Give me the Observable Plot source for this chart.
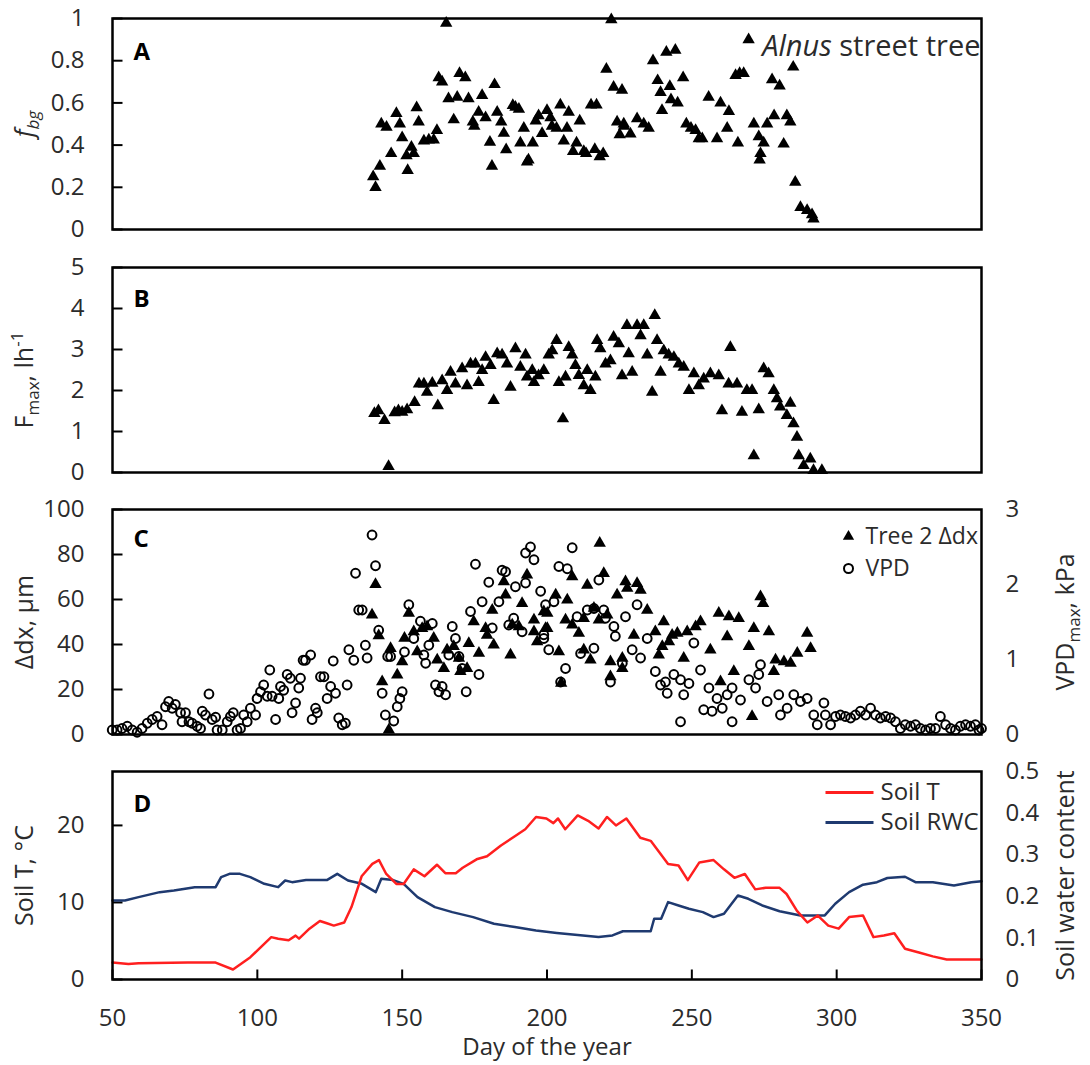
<!DOCTYPE html>
<html><head><meta charset="utf-8">
<script src="https://cdn.jsdelivr.net/npm/d3@7"></script>
<script src="https://cdn.jsdelivr.net/npm/@observablehq/plot@0.6"></script>
<style>
body{margin:0;background:#fff;}
#chart{width:1090px;}
#chart svg{display:block;}
</style></head><body><div id="chart"></div>
<script>
// ---------- Panel A: f_bg ----------
const aDay = [140,140.8,142.3,142.8,144.6,146.2,148,149.2,150,151.5,151.9,153.2,154,155,155.7,157.5,159.2,160.9,162,162.6,
  163.8,165.2,166,167.8,169,169.8,171.8,172.9,174.4,174.9,176.4,177.6,178.8,180.3,181,181.9,182.8,184.2,185.1,185.9,
  188.2,189.1,190.3,190.8,192,193.1,193.6,195.1,196.1,197.1,198.3,200,201.2,201.7,203.3,204.6,205.8,206.9,207.5,209,
  210.2,211.3,212.7,213.5,215.2,216.5,217.1,218.2,219.4,220.5,222.2,223,224.2,225.1,225.9,226.5,226.6,228.8,231.1,233.4,
  235.1,236.6,238.2,239.2,239.7,241.2,242.4,242.8,244.3,245.1,247,248.1,249.7,251.3,252.4,253.6,255.8,258.7,259.9,262.2,
  262.8,265.1,265.9,266.5,267.9,269.6,271.4,273.1,273.4,273.7,274.8,276,277.7,278.4,280.3,281.7,282.8,284,285,285.7,
  287.5,289.8,291.5,292];
const aFbg = [0.25,0.20,0.30,0.50,0.485,0.36,0.55,0.50,0.435,0.35,0.28,0.39,0.36,0.577,0.51,0.42,0.425,0.425,0.47,0.72,
  0.70,0.978,0.62,0.52,0.627,0.74,0.72,0.62,0.51,0.49,0.556,0.635,0.53,0.414,0.30,0.687,0.556,0.51,0.456,0.378,
  0.588,0.58,0.57,0.41,0.48,0.32,0.33,0.41,0.515,0.54,0.455,0.564,0.53,0.49,0.48,0.59,0.42,0.48,0.556,0.37,
  0.41,0.515,0.37,0.36,0.59,0.38,0.59,0.345,0.36,0.76,0.995,0.675,0.51,0.45,0.66,0.50,0.49,0.453,0.525,0.50,
  0.48,0.80,0.706,0.65,0.564,0.84,0.678,0.615,0.85,0.60,0.72,0.50,0.48,0.47,0.43,0.43,0.627,0.43,0.60,0.48,
  0.56,0.73,0.41,0.74,0.74,0.90,0.50,0.44,0.33,0.36,0.41,0.50,0.71,0.54,0.68,0.405,0.54,0.51,0.77,0.224,
  0.105,0.09,0.07,0.05];

// ---------- Panel B: Fmax ----------
const bDay = [140.4,141.8,143.9,145.3,147.4,148.7,150,151.7,154.3,155.8,157.5,158.6,160.4,162.3,163.8,165.5,166.7,168.4,170.7,172.4,
  173.6,175.3,176.4,177.6,178.8,180.5,181.6,182.8,184.5,186.2,187.4,189.1,190.8,192.6,193.1,194.9,195.5,197.1,198.9,200.6,
  201.8,203.3,204.1,205.5,206.4,207.5,208.7,209.8,211,212.7,213.9,215,216.7,217.3,218.4,220.2,221.9,223,224.8,225.9,
  227.6,228.2,229.4,231.1,232.3,233.4,234.6,236.3,237.2,238,239.2,240.3,242,243.8,245.5,247.2,249,250.7,252.4,254.1,
  256.4,259.3,260.4,262.7,263.3,265.6,267.3,269,270.8,271.4,273.1,274.8,276.5,278.3,279.4,280.5,282.8,284,285.1,286.3,
  286.9,288.6,290.9,292,294.9];
const bFmax = [1.44,1.51,1.27,0.15,1.46,1.51,1.47,1.53,1.71,2.16,2.16,1.96,2.18,1.63,2.24,2.0,2.45,2.16,2.53,2.12,
  2.65,2.65,2.2,2.49,2.81,2.61,1.76,2.9,2.87,2.65,2.08,3.02,2.57,2.87,2.33,2.49,2.2,2.36,2.49,2.87,
  2.97,3.22,2.2,1.31,2.33,3.05,2.87,2.61,2.37,2.12,2.49,2.0,2.33,3.22,3.02,2.65,2.73,3.3,3.14,2.36,
  3.59,2.9,2.45,3.59,3.34,3.59,2.87,1.96,3.83,3.22,2.45,2.97,2.87,2.81,2.65,2.57,2.0,2.41,2.12,2.28,
  2.41,2.36,1.51,2.16,3.05,2.16,1.47,2.0,2.0,0.41,1.53,2.53,2.41,2.0,1.8,1.6,1.39,1.69,1.19,0.86,
  0.41,0.17,0.33,0.05,0.05];

// ---------- Panel C: Tree 2 Δdx (µm) and VPDmax (kPa) ----------
const cDxDay = [139.6,140.8,141.9,143.1,145.4,146,148.3,150,150.8,152.3,154,155.2,156.9,158.6,160.9,162.1,164.4,165.5,167.8,169.6,
  170.1,172.4,173,174.7,176.5,178.8,179.3,181.1,181.6,185.1,185.7,187.4,188,190.3,191.4,193.1,195.5,195.5,196.6,198.9,
  199.5,200.1,200.1,203,204.1,204.9,206.4,207,208.7,208.7,211,212.7,212.7,213.9,215,216.2,217.9,218.2,219.6,220.8,
  221.9,221.9,224.2,226,226,227.1,227.7,230,231.1,232.3,234.6,237.4,238.6,239.8,240.3,242.1,243.2,245,247.2,248.4,
  251.3,253,256.4,259.3,259.9,262.2,262.8,264.5,266.2,269.7,270.8,271.4,273.7,274.6,276.6,278.3,278.9,281.8,284.1,286.4,
  289.8,291];
const cDx = [53.1,66.7,43.9,23.5,2.0,38.3,26.5,32.4,42.8,53.9,45.7,36.8,47.2,47.9,42.8,33.1,29.4,37.6,39.1,33.9,
  28,29.4,40.5,50.2,36.1,47.2,44.2,55.3,39.8,67.9,62,35.4,48.7,47.9,58.3,70.9,50.9,45.7,41.3,54.6,
  47.2,53.9,47.2,62,36.8,22.8,50.9,59.8,70.1,48.7,45,51.6,37.6,66.4,33.1,56.1,50.9,85,71.6,53.1,
  32.4,25.7,62,33.9,29.4,67.9,65,44.2,67.2,64.2,55.3,45.7,35.4,39.1,50.2,41.3,44.2,45,33.9,45.7,
  47.9,50.2,37.6,53.9,23.5,43.5,52.4,28,51.6,39.1,8,47.2,61.3,58.3,45.7,28,33.1,32.4,31.7,36.1,
  45,38.3];
const cVpdDay = [49.9,51.6,53.3,55.1,56.8,58.5,60.2,62,63.7,65.4,67.1,68.3,69.4,70.6,71.7,73.5,74,75.2,76.4,77.5,
  79.2,80.4,81,82.1,83.3,84.4,85.6,86.1,87.9,89.6,90.7,91.7,93,94.2,95.3,96.5,97.6,99.4,99.9,101.1,
  102.2,103.4,104.3,105.1,106.3,107.4,108,109.1,110.3,111.4,112,113.2,114.3,114.9,115.8,116.6,118.4,118.9,120.1,120.7,
  121.8,123,124.1,125.3,126.2,127,128.1,129.3,130.4,131,131.6,133.3,133.9,135,136.2,137.3,137.9,139.6,140.8,141.9,
  143.1,144.2,145,146,147.1,148.3,149.2,150,150.8,152.3,154,156.3,157.5,158.1,159.2,160.4,161.5,162.7,163.8,165,
  166.1,167.3,168.4,169.6,170.7,172.1,173.6,175.3,176.5,177.6,179.9,181.1,183.4,184.5,185.7,186.8,188.5,189.1,191.4,192.6,
  192.6,194.3,195.5,197.8,198.9,198.9,199.5,200.6,202.4,204.1,204.7,206.4,207,208.7,210.4,211.6,213.9,216.2,216.2,217.9,
  219.6,220.2,221.9,223.1,223.6,226,227.1,229.4,231.1,232.3,234.6,237.4,239.2,240.9,241.5,243.8,246.1,246.1,247.2,249,
  250.7,253,254.1,255.9,257,258.7,260.5,262.2,263.9,263.9,266.8,269.7,272,273.1,273.7,276,280,280.6,282.9,285.2,
  287.5,289.8,292.1,293.3,295.6,296.1,297.9,299.6,301.3,303,304.8,306.5,308.2,310,311.7,313.4,315.1,316.9,318.6,320.3,
  322,323.7,325.5,327.2,328.9,330.7,332.4,334.1,335.8,337.6,339.3,341,342.7,344.5,346.2,347.9,349.1,350];
const cVpd = [0.06,0.06,0.08,0.11,0.06,0.03,0.08,0.15,0.2,0.24,0.13,0.37,0.44,0.35,0.4,0.29,0.17,0.29,0.17,0.15,
  0.11,0.08,0.31,0.26,0.54,0.2,0.23,0.06,0.06,0.17,0.24,0.29,0.06,0.08,0.26,0.17,0.35,0.26,0.48,0.57,
  0.66,0.51,0.86,0.51,0.2,0.48,0.64,0.59,0.8,0.75,0.29,0.42,0.62,0.75,0.99,0.99,1.06,0.2,0.35,0.29,
  0.77,0.77,0.48,0.64,0.98,0.55,0.22,0.13,0.15,0.66,1.13,0.99,2.15,1.66,1.66,1.19,1.02,2.66,2.25,1.39,
  0.55,0.26,1.04,1.04,0.18,0.37,0.48,0.57,1.1,1.73,1.28,1.51,1.06,0.95,1.19,1.48,0.66,0.57,0.64,0.53,
  1.06,1.44,1.28,1.04,0.88,0.57,1.64,2.27,0.8,1.77,2.03,1.42,1.77,2.19,2.17,1.46,1.55,1.97,1.37,2.42,
  2.02,2.5,2.33,1.91,1.28,1.33,1.73,1.13,1.77,2.24,0.7,0.88,2.21,2.49,1.57,1.08,1.66,1.68,1.15,2.06,
  1.66,1.55,0.7,1.44,1.31,0.95,1.57,1.13,1.73,1.02,1.28,0.84,0.66,0.7,0.55,0.8,0.73,0.17,0.53,0.68,
  1.22,0.86,0.33,0.62,0.31,0.48,0.35,0.53,0.17,0.62,0.46,0.73,0.62,0.8,0.93,0.44,0.53,0.26,0.35,0.53,
  0.44,0.48,0.26,0.13,0.42,0.26,0.13,0.24,0.26,0.24,0.22,0.26,0.31,0.26,0.35,0.26,0.22,0.24,0.22,0.17,
  0.08,0.13,0.11,0.13,0.08,0.06,0.08,0.08,0.24,0.13,0.08,0.06,0.11,0.13,0.11,0.13,0.06,0.08];

// ---------- Panel D: soil temperature and soil water content ----------
const dTDay = [50,55.5,59,76,85.6,91.6,97.6,104.8,107.2,110.8,
  113.2,114.4,118,121.6,124,126.4,130,132.5,136,139.7,
  142,144.5,148,150.5,154,157.7,162,164.9,168.5,170.9,
  175.7,179.3,184.1,188.9,192.5,196.2,199.8,202.2,203.8,206.3,
  210.6,214.2,217.8,220.7,223.8,227.4,232.2,235.8,241.8,245.4,
  248.6,252.6,257.5,261.1,264.7,268.3,271.9,275.5,280.3,282.7,
  286.3,289.9,293.5,297.1,300.7,304.3,309.1,312.7,316.3,319.9,
  323.6,328.4,333.2,338,350];
const dSoilT = [2.2,2.0,2.1,2.2,2.2,1.3,2.9,5.5,5.3,5.1,
  5.7,5.3,6.6,7.6,7.3,7.0,7.4,9.4,13.4,15,
  15.5,13.7,12.4,12.4,14.3,13.4,14.9,13.8,13.8,14.5,
  15.6,16,17.4,18.6,19.5,21.1,20.9,20.3,20.9,19.5,
  21.3,20.6,19.6,21.1,20.0,20.9,18.4,18.0,15,14.8,
  12.9,15.2,15.5,14.3,13.2,13.7,11.7,11.9,11.9,11.1,
  8.9,7.4,8.3,7.0,6.6,8.1,8.3,5.5,5.7,6.0,
  4.0,3.5,3.0,2.6,2.6];
const dRDay = [50,54.3,59,66.3,71.2,78.4,85.6,87.5,90.4,94,
  97.6,102.4,107.2,109.6,112,116.8,124,127.6,131.3,136.1,
  140.9,142.8,146.9,150.5,155.3,161.3,167.3,174.5,181.7,188.9,
  196.2,203.4,210.6,217.8,222.6,226.2,235.8,237,239.4,241.8,
  245.4,249,253.8,257.5,261.1,265.9,269.5,274.3,280.3,287.5,
  295.9,299.5,304.3,309.1,313.9,317.5,323.6,327.2,333.2,340.5,
  346.5,350];
const dRwc = [0.19,0.19,0.198,0.21,0.214,0.222,0.222,0.246,0.254,0.254,
  0.246,0.23,0.222,0.238,0.234,0.239,0.239,0.254,0.238,0.23,
  0.21,0.242,0.239,0.23,0.198,0.174,0.162,0.15,0.134,0.126,
  0.118,0.112,0.107,0.102,0.106,0.116,0.116,0.146,0.146,0.186,
  0.178,0.17,0.162,0.15,0.158,0.202,0.194,0.178,0.164,0.154,
  0.154,0.182,0.21,0.228,0.234,0.244,0.247,0.234,0.234,0.226,
  0.234,0.236];

// ---------- tick labels ----------
const xTicks = [50,100,150,200,250,300,350];
const aTicks = [0,0.2,0.4,0.6,0.8,1];
const bTicks = [0,1,2,3,4,5];
const cTicks = [0,20,40,60,80,100];
const cVpdTicks = [0,1,2,3];
const dTTicks = [0,10,20];
const dRwcTicks = [0,0.1,0.2,0.3,0.4,0.5];

// ---------- drawing ----------
const FONT = '"Open Sans", sans-serif';
const TXT = "#2b2b2b";
const RED = "#ff1f1f", BLUE = "#1f3a70";
const VPD_K = 100/3;      // VPD axis (0-3 kPa) on the 0-100 µm scale
const RWC_K = 27/0.5;     // RWC axis (0-0.5) on the 0-27 °C scale
const zip = (xs, ys) => xs.map((x,i)=>({x, y: ys[i]}));
const fmt = d => String(+(+d).toFixed(1));
// inward tick shapes (pixel-space symbols)
const tickRight = {draw(ctx){ ctx.moveTo(0,0); ctx.lineTo(10,0); }};
const tickUp = {draw(ctx){ ctx.moveTo(0,0); ctx.lineTo(0,-10); }};

function panel({height, mt, mb, yDomain, yTicks, marks, xAxis=false}) {
  return Plot.plot({
    width: 1090, height, marginLeft: 112, marginRight: 109, marginTop: mt, marginBottom: mb,
    x: {domain: [50,350], axis: null},
    y: {domain: yDomain, axis: null},
    style: {fontFamily: FONT, fontSize: "24px", color: TXT, background: "white", overflow: "visible"},
    marks: [
      Plot.dot(yTicks, {y: d=>d, frameAnchor: "left", symbol: tickRight, stroke: "black", strokeWidth: 2, fill: "none"}),
      Plot.axisY({anchor: "left", label: null, ticks: yTicks, tickFormat: fmt, tickSize: 0, tickPadding: 28,
                  fontSize: 24, fill: TXT}),
      ...(xAxis ? [
        Plot.dot(xTicks, {x: d=>d, frameAnchor: "bottom", symbol: tickUp, stroke: "black", strokeWidth: 2, fill: "none"}),
        Plot.axisX({anchor: "bottom", label: null, ticks: xTicks, tickFormat: d=>String(d), tickSize: 0, tickPadding: 29,
                    fontSize: 24, fill: TXT})] : []),
      ...marks,
      Plot.frame({stroke: "black", strokeWidth: 2.5})
    ]
  });
}
const txt = (t, o) => Plot.text([t], {text: d=>d, lineAnchor: "middle", fill: TXT, ...o});
const panelLabel = (t, dy) => txt(t, {frameAnchor: "top-left", dx: 21, dy, textAnchor: "start",
  fontWeight: "bold", fontSize: 24, fill: "black"});
const yTitle = (t, side="left", dy=0) => txt(t, {frameAnchor: side, dx: side==="left" ? -88 : 84, dy,
  rotate: -90, textAnchor: "middle", fontSize: 25});
const tri = {symbol: "triangle", fill: "black", r: 4.6};
const legendLine = {draw(ctx){ ctx.moveTo(-24,0); ctx.lineTo(24,0); }};

const svgA = panel({height: 250, mt: 18, mb: 21, yDomain: [0,1], yTicks: aTicks, marks: [
  Plot.dot(zip(aDay, aFbg), {x: "x", y: "y", ...tri}),
  panelLabel("A", 34),
  txt("Alnus street tree", {frameAnchor: "top-right", dx: -1, dy: 28, textAnchor: "end", fontSize: 29}),
  yTitle("fbg")
]});
const svgB = panel({height: 245, mt: 17, mb: 23, yDomain: [0,5], yTicks: bTicks, marks: [
  Plot.dot(zip(bDay, bFmax), {x: "x", y: "y", ...tri}),
  panelLabel("B", 32),
  yTitle("Fmax, lh-1", "left", 10)
]});
const svgC = panel({height: 255, mt: 14, mb: 16, yDomain: [0,100], yTicks: cTicks, marks: [
  Plot.axisY({anchor: "right", label: null, ticks: cVpdTicks.map(v=>v*VPD_K), tickFormat: d=>fmt(d/VPD_K), tickSize: 0,
    tickPadding: 24, fontSize: 24, fill: TXT}),
  Plot.dot(zip(cDxDay, cDx), {x: "x", y: "y", ...tri}),
  Plot.dot(zip(cVpdDay, cVpd), {x: "x", y: d=>d.y*VPD_K, r: 4.4, stroke: "black", strokeWidth: 2, fill: "none"}),
  panelLabel("C", 30),
  Plot.dot([0], {frameAnchor: "top-right", dx: -133, dy: 27, symbol: "triangle", r: 4.2, fill: "black"}),
  txt("Tree 2 Δdx", {frameAnchor: "top-right", dx: -116, dy: 27, textAnchor: "start", fontSize: 23}),
  Plot.dot([0], {frameAnchor: "top-right", dx: -133, dy: 59, r: 4.5, stroke: "black", strokeWidth: 2, fill: "none"}),
  txt("VPD", {frameAnchor: "top-right", dx: -116, dy: 59, textAnchor: "start", fontSize: 23}),
  yTitle("Δdx, µm"),
  yTitle("VPDmax, kPa", "right")
]});
const svgD = panel({height: 315, mt: 21, mb: 86, yDomain: [0,27], yTicks: dTTicks, xAxis: true, marks: [
  Plot.axisY({anchor: "right", label: null, ticks: dRwcTicks.map(v=>v*RWC_K), tickFormat: d=>fmt(d/RWC_K), tickSize: 0,
    tickPadding: 24, fontSize: 24, fill: TXT}),
  Plot.line(zip(dRDay, dRwc), {x: "x", y: d=>d.y*RWC_K, stroke: BLUE, strokeWidth: 2.5}),
  Plot.line(zip(dTDay, dSoilT), {x: "x", y: "y", stroke: RED, strokeWidth: 2.5}),
  panelLabel("D", 33),
  Plot.dot([0], {frameAnchor: "top-right", dx: -132, dy: 21, symbol: legendLine, stroke: RED, strokeWidth: 3, fill: "none"}),
  txt("Soil T", {frameAnchor: "top-right", dx: -101, dy: 21, textAnchor: "start", fontSize: 24}),
  Plot.dot([0], {frameAnchor: "top-right", dx: -132, dy: 51, symbol: legendLine, stroke: BLUE, strokeWidth: 3, fill: "none"}),
  txt("Soil RWC", {frameAnchor: "top-right", dx: -101, dy: 51, textAnchor: "start", fontSize: 24}),
  yTitle("Soil T, °C"),
  yTitle("Soil water content", "right"),
  txt("Day of the year", {frameAnchor: "bottom", dy: 68, textAnchor: "middle", fontSize: 24})
]});

const chart = document.getElementById("chart");
[svgA, svgB, svgC, svgD].forEach(s => chart.appendChild(s));

// rich text (italic, subscript, superscript) for axis titles
const NS = "http://www.w3.org/2000/svg";
function rich(svg, plain, parts) {
  svg.querySelectorAll("text").forEach(t => {
    if (t.textContent !== plain) return;
    t.textContent = "";
    parts.forEach(p => {
      const s = document.createElementNS(NS, "tspan");
      s.textContent = p.t;
      for (const k in (p.a || {})) s.setAttribute(k, p.a[k]);
      t.appendChild(s);
    });
  });
}
rich(svgA, "fbg", [{t: "f", a: {"font-style": "italic"}}, {t: "bg", a: {"font-style": "italic", "font-size": 17, dy: 6}}]);
rich(svgB, "Fmax, lh-1", [{t: "F"}, {t: "max", a: {"font-size": 17, dy: 6}}, {t: ", lh", a: {dy: -6}},
  {t: "-1", a: {"font-size": 17, dy: -10}}]);
rich(svgC, "VPDmax, kPa", [{t: "VPD"}, {t: "max", a: {"font-size": 17, dy: 6}}, {t: ", kPa", a: {dy: -6}}]);
rich(svgA, "Alnus street tree", [{t: "Alnus", a: {"font-style": "italic"}}, {t: " street tree"}]);
</script></body></html>
